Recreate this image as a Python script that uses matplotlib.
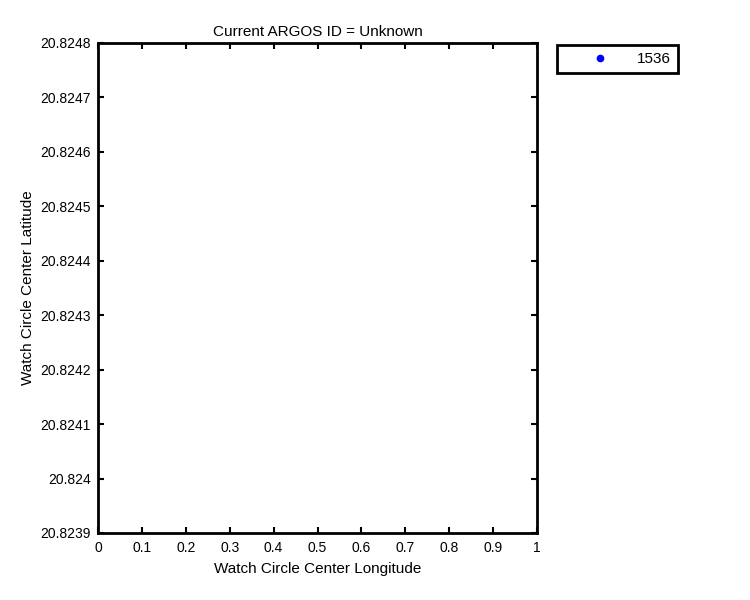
import numpy as np
from matplotlib import pyplot as plt
from matplotlib.ticker import FixedLocator, FuncFormatter

# no fixes in the record, only the legend entry survives
argos_ids = ['1536']
lon = []
lat = []
lat_ticks = [20.8239, 20.8240, 20.8241, 20.8242, 20.8243, 20.8244,
             20.8245, 20.8246, 20.8247, 20.8248]
lon_ticks = [0, 0.1, 0.2, 0.3, 0.4, 0.5, 0.6, 0.7, 0.8, 0.9, 1]

plt.rcParams['font.family'] = ['Liberation Sans', 'DejaVu Sans']
plt.rcParams['font.size'] = 10

fig = plt.figure(figsize=(7.5, 6), dpi=100)
ax = fig.add_axes([98 / 750, 1 - 533 / 600, (537 - 98) / 750, (533 - 43) / 600])

for aid in argos_ids:
    ax.plot(lon, lat, linestyle='none', marker='.', markersize=9,
            color='blue', label=aid)

ax.set_xlim(lon_ticks[0], lon_ticks[-1])
ax.set_ylim(lat_ticks[0], lat_ticks[-1])
ax.xaxis.set_major_locator(FixedLocator(lon_ticks))
ax.yaxis.set_major_locator(FixedLocator(lat_ticks))
ax.xaxis.set_major_formatter(FuncFormatter(lambda v, p: ('%.1f' % v).rstrip('0').rstrip('.')))
ax.yaxis.set_major_formatter(FuncFormatter(lambda v, p: ('%.4f' % v).rstrip('0').rstrip('.')))

ax.tick_params(direction='in', length=4, width=1.5, top=True, right=True,
               labelsize=10)
ax.tick_params(axis='x', pad=6)
ax.tick_params(axis='y', pad=5)
for s in ax.spines.values():
    s.set_linewidth(2)

ax.set_title('Current ARGOS ID = Unknown', fontsize=11, pad=5)
ax.set_xlabel('Watch Circle Center Longitude', fontsize=11, labelpad=5)
ax.set_ylabel('Watch Circle Center Latitude', fontsize=11, labelpad=4)

leg = fig.legend(loc='upper left', bbox_to_anchor=(557 / 750, 1 - 45 / 600),
                 fancybox=False, framealpha=1, edgecolor='black',
                 borderpad=0.45, handlelength=4.72, handletextpad=0.05,
                 borderaxespad=0, fontsize=11)
leg.get_frame().set_linewidth(2)

fig.savefig('out.png', dpi=100)
